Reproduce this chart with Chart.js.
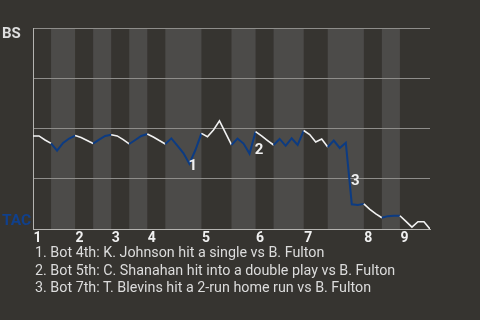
<!DOCTYPE html>
<html><head><meta charset="utf-8">
<script src="https://cdn.jsdelivr.net/npm/chart.js@4/dist/chart.umd.min.js"></script>
<style>
html,body{margin:0;padding:0;background:#363430;width:480px;height:320px;overflow:hidden;}
#wrap{position:absolute;left:0;top:0;width:480px;height:320px;}
#notes{position:absolute;left:35px;top:244px;font:14.3px Roboto, sans-serif;color:#dcdcdc;line-height:17.7px;white-space:nowrap;}
</style></head><body>
<div id="wrap"><canvas id="c" width="480" height="320"></canvas></div>
<div id="notes"></div>
<script>
const teamTop = 'BS';
const teamBottom = 'TAC';
// BS win probability after each plate appearance
const winProb = [0.463,0.463,0.443,0.426,0.39,0.428,0.45,0.465,0.455,0.44,0.425,0.445,0.463,0.469,0.463,0.445,0.423,0.443,0.463,0.473,0.458,0.44,0.423,0.451,0.415,0.378,0.325,0.393,0.476,0.459,0.493,0.538,0.478,0.418,0.45,0.425,0.375,0.484,0.463,0.44,0.418,0.448,0.414,0.451,0.418,0.49,0.47,0.433,0.448,0.408,0.44,0.403,0.429,0.123,0.12,0.125,0.098,0.075,0.056,0.064,0.066,0.066,0.038,0.009,0.036,0.036,0];
// plate-appearance index where each half inning starts (last = end of game)
const halfInningStarts = [0,3,7,10,13,16,19,22,28,33,37,40,45,49,55,58,61,66];
const inningLabels = ['1','2','3','4','5','6','7','8','9'];
const eventIndex = [26,37,53];
const eventLabels = ['1','2','3'];
const eventNotes = [
  '1. Bot 4th: K. Johnson hit a single vs B. Fulton',
  '2. Bot 5th: C. Shanahan hit into a double play vs B. Fulton',
  '3. Bot 7th: T. Blevins hit a 2-run home run vs B. Fulton'
];

const BG = '#363430', BAND = '#4c4b49', BLUE = '#0c3b82', WHITE = '#f2f2f2';
const FONT = 'Roboto, "Open Sans", sans-serif';

document.getElementById('notes').innerHTML = eventNotes.map(s => '<div>' + s + '</div>').join('');

function halfIndex(i){
  for (let k = 0; k < halfInningStarts.length - 1; k++) {
    if (i >= halfInningStarts[k] && i < halfInningStarts[k+1]) return k;
  }
  return halfInningStarts.length - 2;
}
const isBottom = i => halfIndex(i) % 2 === 1;

const decor = {
  id: 'decor',
  beforeDraw(chart) {
    const {ctx, chartArea: a, scales: {x}} = chart;
    ctx.save();
    ctx.fillStyle = BG;
    ctx.fillRect(0, 0, chart.width, chart.height);
    ctx.fillStyle = BAND;
    for (let k = 1; k < halfInningStarts.length - 1; k += 2) {
      const x0 = x.getPixelForValue(halfInningStarts[k]);
      const x1 = x.getPixelForValue(halfInningStarts[k+1]);
      ctx.fillRect(x0, a.top, x1 - x0, a.bottom - a.top);
    }
    ctx.restore();
  },
  afterDatasetsDraw(chart) {
    const {ctx, chartArea: a, scales: {x, y}} = chart;
    ctx.save();
    ctx.textBaseline = 'middle';
    ctx.font = 'bold 15px ' + FONT;
    ctx.textAlign = 'left';
    ctx.fillStyle = '#dedede';
    ctx.fillText(teamTop, 2, y.getPixelForValue(1) + 6);
    ctx.fillStyle = '#10408c';
    ctx.font = 'bold 15.5px ' + FONT;
    ctx.fillText(teamBottom, 2, y.getPixelForValue(0) - 8);
    ctx.textAlign = 'center';
    ctx.fillStyle = '#f0f0f0';
    ctx.font = 'bold 14px ' + FONT;
    let n = 0;
    for (let k = 0; k < halfInningStarts.length - 1; k += 2) {
      ctx.fillText(inningLabels[n++], x.getPixelForValue(halfInningStarts[k]) + 4.5, a.bottom + 9);
    }
    ctx.font = 'bold 15px ' + FONT;
    eventIndex.forEach((ei, j) => {
      const px = (x.getPixelForValue(ei) + x.getPixelForValue(ei - 1)) / 2;
      const py = (y.getPixelForValue(winProb[ei]) + y.getPixelForValue(winProb[ei - 1])) / 2;
      ctx.fillText(eventLabels[j], px + 6.5, py + 8);
    });
    ctx.restore();
  }
};

new Chart(document.getElementById('c'), {
  type: 'line',
  data: {
    datasets: [{
      data: winProb.map((v, i) => ({x: i, y: v})),
      borderColor: WHITE,
      borderWidth: 1.6,
      pointRadius: 0,
      tension: 0,
      segment: {
        borderColor: c => isBottom(c.p0DataIndex) ? BLUE : WHITE,
        borderWidth: c => isBottom(c.p0DataIndex) ? 2 : 1.6
      }
    }]
  },
  options: {
    responsive: false,
    animation: false,
    devicePixelRatio: 1,
    layout: {padding: {left: 33, top: 28, right: 50, bottom: 91}},
    plugins: {legend: {display: false}, tooltip: {enabled: false}},
    scales: {
      x: {
        type: 'linear', min: 0, max: halfInningStarts[halfInningStarts.length - 1],
        grid: {display: false, drawTicks: false},
        border: {display: true, color: '#b4b3b0', width: 1},
        ticks: {display: false}
      },
      y: {
        min: 0, max: 1,
        grid: {color: c => c.tick.value === 0 ? 'rgba(0,0,0,0)' : '#8e8d8a', drawTicks: false, lineWidth: 1},
        border: {display: true, color: '#b4b3b0', width: 1},
        ticks: {display: false, stepSize: 0.25}
      }
    }
  },
  plugins: [decor]
});
</script>
</body></html>
